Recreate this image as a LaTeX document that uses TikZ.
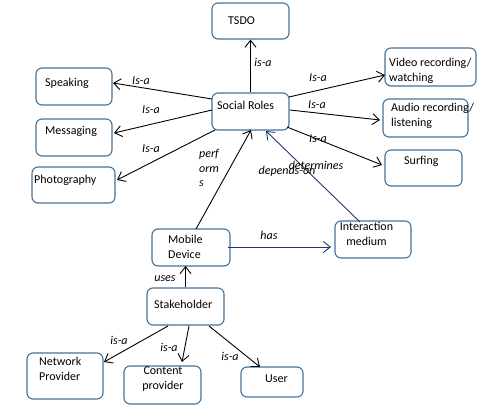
\documentclass[tikz,border=0pt]{standalone}
\usepackage{fontspec}
\setmainfont{Carlito}
\usetikzlibrary{arrows.meta,calc}
\definecolor{boxblue}{RGB}{65,113,156}
\definecolor{navy}{RGB}{31,56,110}
\begin{document}
\begin{tikzpicture}[x=1pt,y=1pt,
  box/.style={draw=boxblue,line width=1.1pt,rounded corners=6pt,inner sep=0pt},
  txt/.style={inner sep=0pt,anchor=west,font=\fontsize{12}{14.8}\selectfont},
  lbl/.style={inner sep=0pt,font=\fontsize{12}{14.8}\selectfont\itshape},
  arr/.style={line width=0.9pt,-{Straight Barb[length=7pt,width=11pt]}},
  blk/.style={arr,draw=black},
  nav/.style={arr,draw=navy}]
\useasboundingbox (0,0) rectangle (482,410);
% boxes
\node[box,minimum width=77pt,minimum height=36pt] (tsdo) at (250.5,389) {};
\node[box,minimum width=76pt,minimum height=37pt] (speak) at (74,323.5) {};
\node[box,minimum width=76pt,minimum height=37pt] (mess) at (74,272.5) {};
\node[box,minimum width=83pt,minimum height=36pt] (photo) at (73.5,225) {};
\node[box,minimum width=77pt,minimum height=37pt] (sr) at (250.5,298.5) {};
\node[box,minimum width=91pt,minimum height=38pt] (video) at (430.5,343) {};
\node[box,minimum width=85pt,minimum height=38pt] (audio) at (425.5,292) {};
\node[box,minimum width=77pt,minimum height=36pt] (surf) at (423.5,242) {};
\node[box,minimum width=78pt,minimum height=37pt] (mob) at (191,162.5) {};
\node[box,minimum width=76pt,minimum height=37pt] (inter) at (373,170.5) {};
\node[box,minimum width=77pt,minimum height=37pt] (stake) at (185.5,103.5) {};
\node[box,minimum width=76pt,minimum height=46pt] (net) at (65,34) {};
\node[box,minimum width=77pt,minimum height=38pt] (cont) at (162.5,25) {};
\node[box,minimum width=62pt,minimum height=30pt] (user) at (272,28) {};
% texts
\node[txt] (tsdo-t) at (228,389) {TSDO};
\node[txt] (speak-t) at (45,327) {Speaking};
\node[txt] (mess-t) at (45,279) {Messaging};
\node[txt] (photo-t) at (34,230) {Photography};
\node[txt] (sr-t) at (217,305) {Social Roles};
\node[txt,align=left] (video-t) at (389,339.5) {Video recording/\\watching};
\node[txt,align=left] (audio-t) at (391,294.5) {Audio recording/\\listening};
\node[txt] (surf-t) at (404,249) {Surfing};
\node[txt,align=left] (mob-t) at (168,163) {Mobile\\Device};
\node[txt,align=center,anchor=center] (inter-t) at (366.5,176) {Interaction\\medium};
\node[txt] (stake-t) at (154,106) {Stakeholder};
\node[txt,align=left] (net-t) at (39,41) {Network\\Provider};
\node[txt,align=center,anchor=center] (cont-t) at (163,31) {Content\\provider};
\node[txt] (user-t) at (265,31) {User};
% connectors
\draw[blk] (sr.north) -- (tsdo.south);
\draw[blk] ($(sr)+(-38.5,12.5)$) -- ($(speak)+(39,3.5)$);
\draw[blk] ($(sr)+(-38.5,1.5)$) -- ($(mess)+(40,4.5)$);
\draw[blk] ($(sr)+(-35.5,-18.5)$) -- ($(photo)+(43.5,5)$);
\draw[blk] ($(sr)+(38.5,14.5)$) -- ($(video)+(-45.5,-8)$);
\draw[blk] ($(sr)+(39.5,1.5)$) -- ($(audio)+(-45.5,-2)$);
\draw[blk] ($(sr)+(36.5,-15.5)$) -- ($(surf)+(-41.5,3)$);
\draw[blk] ($(mob)+(5,18.5)$) -- ($(sr)+(0.5,-18.5)$);
\draw[nav] ($(inter)+(-13,17.5)$) -- ($(sr)+(15.5,-19.5)$);
\draw[nav] ($(mob)+(37,0.5)$) -- ($(inter)+(-42,-7.5)$);
\draw[blk] (stake.north) -- ($(mob)+(-5.5,-18.5)$);
\draw[blk] ($(stake)+(-17.5,-19.5)$) -- ($(net)+(39,14)$);
\draw[blk] ($(stake)+(3.5,-19.5)$) -- ($(cont)+(19.5,23)$);
\draw[blk] ($(stake)+(23.5,-19.5)$) -- ($(user)+(-12,15)$);
% labels
\node[lbl] (l1) at (263,348) {is-a};
\node[lbl] (l2) at (141,329) {Is-a};
\node[lbl] (l3) at (151,300) {Is-a};
\node[lbl] (l4) at (151,261) {Is-a};
\node[lbl] (l5) at (318,332) {Is-a};
\node[lbl] (l6) at (317,305) {Is-a};
\node[lbl] (l7) at (318,271) {Is-a};
\node[lbl,align=left,anchor=west] (l8) at (199,242) {perf\\orm\\s};
\node[lbl] (l9) at (316,245) {determines};
\node[lbl] (l10) at (287,239) {depends-on};
\node[lbl] (l11) at (269,175) {has};
\node[lbl] (l12) at (165,131) {uses};
\node[lbl] (l13) at (119,70) {is-a};
\node[lbl] (l14) at (169,63) {is-a};
\node[lbl] (l15) at (230,54) {is-a};
\end{tikzpicture}
\end{document}
